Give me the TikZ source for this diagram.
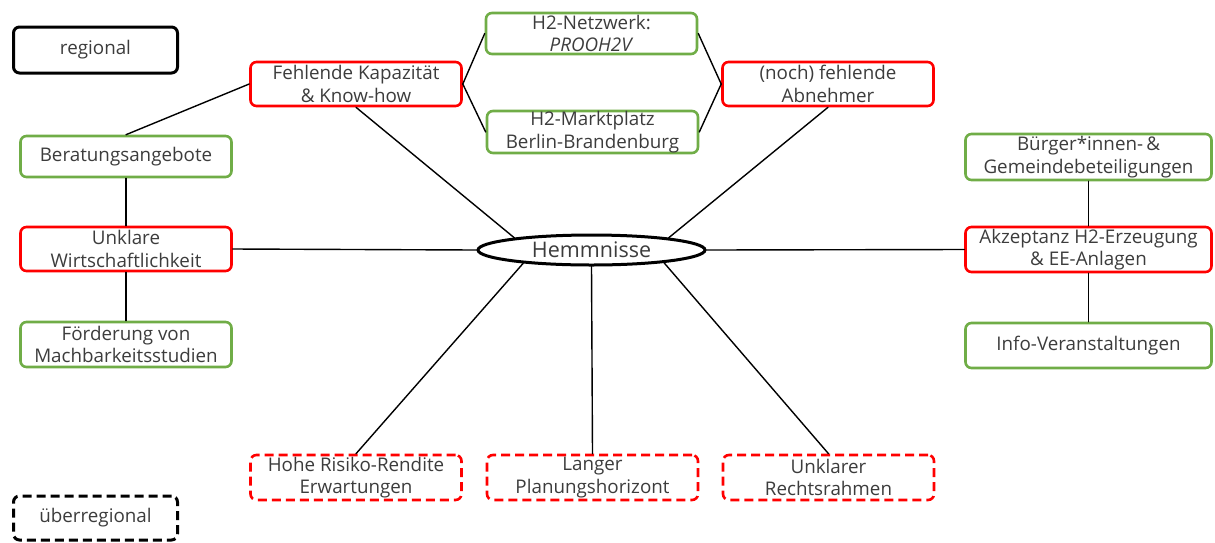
\documentclass[tikz,border=0pt]{standalone}
\usepackage{fontspec}
\setmainfont{Open Sans}
\usetikzlibrary{shapes.geometric}
\definecolor{rd}{RGB}{255,0,0}
\definecolor{gn}{RGB}{112,173,71}
\definecolor{tx}{RGB}{60,60,60}
\tikzset{
  box/.style={draw, rounded corners=6pt, line width=2.6pt, minimum width=211pt,
    minimum height=44pt, inner sep=0pt, align=center, text=tx,
    font=\fontsize{18.8}{22.5}\selectfont},
  redbox/.style={box, draw=rd},
  greenbox/.style={box, draw=gn},
  dredbox/.style={box, draw=rd, dash pattern=on 9pt off 5pt},
  widebox/.style={minimum width=246pt},
  legbox/.style={box, draw=black, line width=3pt, minimum width=164pt},
  link/.style={line width=1.4pt, black, line cap=round}
}
\begin{document}
\begin{tikzpicture}[x=1pt,y=-1pt]
\useasboundingbox (0,0) rectangle (1215,542);
% legend
\node[legbox, minimum height=46pt] (reg) at (95.5,50) {regional};
\node[legbox, minimum height=44pt, dash pattern=on 9pt off 5pt] (ueb) at (95.5,518) {überregional};
% center
\node[draw, ellipse, line width=3pt, minimum width=227pt, minimum height=30pt, inner sep=0pt,
  text=tx, font=\fontsize{21.5}{24}\selectfont] (hem) at (591.5,250) {Hemmnisse};
% top
\node[redbox] (kap) at (356,84) {Fehlende Kapazität\\\& Know-how};
\node[greenbox, minimum height=41pt] (netz) at (591.5,33.5) {H2-Netzwerk:\\\textit{PROOH2V}};
\node[greenbox, minimum height=42pt] (markt) at (592.5,132) {H2-Marktplatz\\Berlin-Brandenburg};
\node[redbox] (abn) at (828,84) {(noch) fehlende\\Abnehmer};
% left
\node[greenbox, minimum height=41pt] (ber) at (126,156.5) {Beratungsangebote};
\node[redbox] (wirt) at (126,249) {Unklare\\Wirtschaftlichkeit};
\node[greenbox, minimum height=45pt] (foe) at (126,344.5) {Förderung von\\Machbarkeitsstudien};
% right
\node[greenbox, widebox, minimum height=46pt] (buer) at (1088.5,157) {Bürger*innen-\,\&\\Gemeindebeteiligungen};
\node[redbox, widebox, minimum height=45pt] (akz) at (1088.5,249.5) {Akzeptanz H2-Erzeugung\\\& EE-Anlagen};
\node[greenbox, widebox, minimum height=45pt] (info) at (1088.5,345.5) {Info-Veranstaltungen};
% bottom
\node[dredbox, minimum height=45pt] (risk) at (356,477.5) {Hohe Risiko-Rendite\\Erwartungen};
\node[dredbox, minimum height=45pt] (plan) at (592.5,477.5) {Langer\\Planungshorizont};
\node[dredbox, minimum height=45pt] (recht) at (828.5,477.5) {Unklarer\\Rechtsrahmen};
% links
\draw[link] (kap.west) -- (ber.north);
\draw[link] (ber.south) -- (wirt.north);
\draw[link] (wirt.south) -- (foe.north);
\draw[link] (wirt.east) -- (hem.west);
\draw[link] (kap.south) -- (hem.171);
\draw[link] (kap.east) -- (netz.west);
\draw[link] (kap.east) -- (markt.west);
\draw[link] (netz.east) -- (abn.west);
\draw[link] (markt.east) -- (abn.west);
\draw[link] (abn.south) -- (hem.9);
\draw[link] (hem.east) -- (akz.west);
\draw[link] (buer.south) -- (akz.north);
\draw[link] (akz.south) -- (info.north);
\draw[link] (hem.191) -- (risk.north);
\draw[link] (hem.south) -- (plan.north);
\draw[link] (hem.350) -- (recht.north);
\end{tikzpicture}
\end{document}
